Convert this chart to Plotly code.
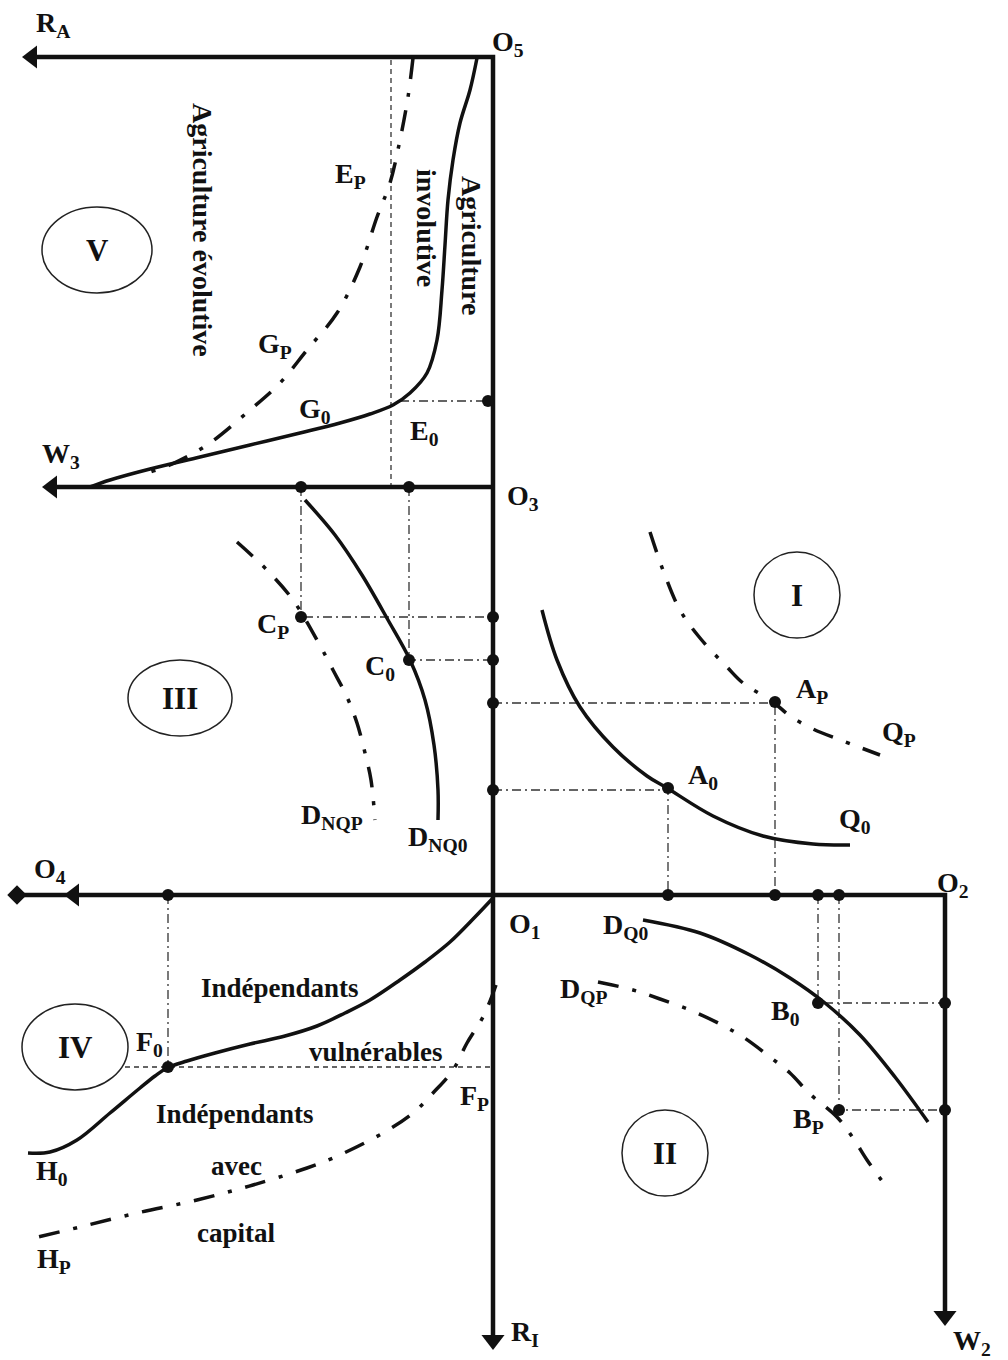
import plotly.graph_objects as go

# ---------------- data (diagram coordinates, y grows downward) ----------------
# Axes
AXIS_TOP_X = [30, 493, 493]
AXIS_TOP_Y = [57, 57, 1338]
AXIS_W3_X = [48, 493]
AXIS_W3_Y = [487, 487]
AXIS_O4_X = [14, 945, 945]
AXIS_O4_Y = [895, 895, 1316]

# Quadrant V curves
G0_X = [477, 470, 460, 453, 448, 445, 442, 437, 427, 410, 393, 370, 340, 300, 250, 200, 150, 110, 90]
G0_Y = [58, 90, 123, 160, 200, 245, 290, 340, 373, 393, 405, 414, 423, 433, 445, 457, 469, 480, 487]
GP_X = [413, 408, 400, 390, 377, 360, 337, 307, 280, 250, 207, 170, 150]
GP_Y = [58, 97, 140, 183, 217, 267, 313, 350, 383, 410, 445, 465, 472]

# Quadrant III curves
DNQ0_X = [305, 335, 362, 388, 410, 425, 434, 438, 438]
DNQ0_Y = [500, 535, 575, 620, 660, 700, 745, 790, 820]
DNQP_X = [237, 267, 293, 317, 333, 347, 357, 366, 371, 375]
DNQP_Y = [542, 570, 600, 640, 670, 697, 723, 757, 780, 820]

# Quadrant I curves
Q0_X = [542, 557, 580, 613, 647, 667, 713, 763, 813, 850]
Q0_Y = [610, 660, 707, 747, 776, 788, 816, 836, 844, 845]
QP_X = [650, 663, 680, 700, 727, 743, 773, 790, 813, 843, 880]
QP_Y = [532, 570, 610, 638, 667, 683, 702, 716, 729, 741, 755]

# Quadrant II curves
DQ0_X = [643, 700, 750, 790, 825, 860, 895, 928]
DQ0_Y = [920, 933, 955, 978, 1003, 1035, 1077, 1122]
DQP_X = [598, 633, 660, 690, 720, 743, 770, 790, 810, 837, 853, 867, 885]
DQP_Y = [982, 990, 999, 1010, 1024, 1037, 1057, 1073, 1094, 1117, 1138, 1160, 1185]

# Quadrant IV curves
H0_X = [493, 475, 450, 425, 400, 370, 345, 317, 285, 250, 215, 187, 167, 155, 140, 110, 77, 50, 28]
H0_Y = [898, 917, 942, 962, 980, 1000, 1013, 1026, 1036, 1044, 1053, 1061, 1068, 1076, 1088, 1113, 1140, 1152, 1153]
HP_X = [496, 484, 467, 453, 433, 413, 383, 333, 307, 253, 197, 137, 80, 38]
HP_Y = [985, 1015, 1043, 1070, 1093, 1113, 1133, 1158, 1168, 1185, 1200, 1213, 1227, 1237]

# Thin dash-dot projection lines
PROJ_SEGMENTS = [
    ([400, 489], [401, 401]),
    ([301, 301, 493], [487, 617, 617]),
    ([409, 409, 493], [487, 660, 660]),
    ([493, 775, 775], [703, 703, 895]),
    ([493, 668, 668], [790, 790, 895]),
    ([168, 168], [895, 1067]),
    ([818, 818, 945], [895, 1003, 1003]),
    ([839, 839, 945], [895, 1110, 1110]),
]
# Thin dashed lines
DASH_SEGMENTS = [
    ([391, 391], [60, 487]),
    ([125, 493], [1067, 1067]),
]

# Points
DOT_X = [488, 301, 409, 301, 409, 493, 493, 493, 493, 775, 668, 668, 775, 818, 839, 168, 168, 818, 839, 945, 945]
DOT_Y = [401, 487, 487, 617, 660, 617, 660, 703, 790, 702, 788, 895, 895, 895, 895, 895, 1067, 1003, 1110, 1003, 1110]

# Arrow heads
ARROW_X = [32, 52, 74, 493, 945]
ARROW_Y = [57, 487, 895, 1340, 1316]
ARROW_SYMBOL = ["triangle-left", "triangle-left", "triangle-left", "triangle-down", "triangle-down"]

# Region markers (centre x, centre y, rx, ry, label)
REGIONS = [
    (97, 250, 55, 43, "V"),
    (180, 698, 52, 38, "III"),
    (797, 595, 43, 43, "I"),
    (75, 1047, 53, 43, "IV"),
    (665, 1153, 43, 43, "II"),
]

# Labels (x, y, text)
LABELS = [
    (53, 24, "R<sub>A</sub>"),
    (508, 43, "O<sub>5</sub>"),
    (350, 175, "E<sub>P</sub>"),
    (275, 345, "G<sub>P</sub>"),
    (315, 410, "G<sub>0</sub>"),
    (424, 432, "E<sub>0</sub>"),
    (61, 455, "W<sub>3</sub>"),
    (523, 497, "O<sub>3</sub>"),
    (273, 625, "C<sub>P</sub>"),
    (380, 667, "C<sub>0</sub>"),
    (332, 816, "D<sub>NQP</sub>"),
    (438, 838, "D<sub>NQ0</sub>"),
    (812, 690, "A<sub>P</sub>"),
    (899, 733, "Q<sub>P</sub>"),
    (703, 776, "A<sub>0</sub>"),
    (855, 820, "Q<sub>0</sub>"),
    (50, 870, "O<sub>4</sub>"),
    (525, 925, "O<sub>1</sub>"),
    (953, 884, "O<sub>2</sub>"),
    (625, 926, "D<sub>Q0</sub>"),
    (583, 990, "D<sub>QP</sub>"),
    (785, 1012, "B<sub>0</sub>"),
    (808, 1120, "B<sub>P</sub>"),
    (972, 1342, "W<sub>2</sub>"),
    (525, 1333, "R<sub>I</sub>"),
    (149, 1043, "F<sub>0</sub>"),
    (474, 1097, "F<sub>P</sub>"),
    (52, 1172, "H<sub>0</sub>"),
    (54, 1260, "H<sub>P</sub>"),
]
TEXTS = [
    (280, 988, "Indépendants"),
    (376, 1052, "vulnérables"),
    (235, 1114, "Indépendants"),
    (236, 1166, "avec"),
    (236, 1233, "capital"),
]
ROT_TEXTS = [
    (203, 230, "Agriculture évolutive"),
    (427, 228, "involutive"),
    (472, 245, "Agriculture"),
]

FONT = "Liberation Serif"
INK = "#111111"

fig = go.Figure()


def line(x, y, width, dash="solid", color=INK, spline=False):
    fig.add_trace(go.Scatter(
        x=x, y=y, mode="lines",
        line=dict(color=color, width=width, dash=dash,
                  shape="spline" if spline else "linear"),
        hoverinfo="skip", showlegend=False))


for sx, sy in PROJ_SEGMENTS:
    line(sx, sy, 1.3, dash="9px,4px,2px,4px", color="#333333")
for sx, sy in DASH_SEGMENTS:
    line(sx, sy, 1.3, dash="5px,4px", color="#333333")

line(AXIS_TOP_X, AXIS_TOP_Y, 4.5)
line(AXIS_W3_X, AXIS_W3_Y, 4.5)
line(AXIS_O4_X, AXIS_O4_Y, 4.5)

for cx, cy in [(G0_X, G0_Y), (DNQ0_X, DNQ0_Y), (Q0_X, Q0_Y), (DQ0_X, DQ0_Y), (H0_X, H0_Y)]:
    line(cx, cy, 3.5, spline=True)
for cx, cy in [(GP_X, GP_Y), (DNQP_X, DNQP_Y), (QP_X, QP_Y), (DQP_X, DQP_Y), (HP_X, HP_Y)]:
    line(cx, cy, 3.5, dash="21px,14px,4px,14px", spline=True)

fig.add_trace(go.Scatter(x=DOT_X, y=DOT_Y, mode="markers",
                         marker=dict(color=INK, size=12),
                         hoverinfo="skip", showlegend=False))
fig.add_trace(go.Scatter(x=[AXIS_O4_X[0] + 3], y=[AXIS_O4_Y[0]], mode="markers",
                         marker=dict(color=INK, size=15, symbol="diamond"),
                         hoverinfo="skip", showlegend=False))
fig.add_trace(go.Scatter(x=ARROW_X, y=ARROW_Y, mode="markers",
                         marker=dict(color=INK, size=20, symbol=ARROW_SYMBOL),
                         hoverinfo="skip", showlegend=False))

annotations = []
for lx, ly, t in LABELS:
    annotations.append(dict(x=lx, y=ly, xref="x", yref="y", text="<b>" + t + "</b>",
                            showarrow=False, font=dict(family=FONT, size=28, color=INK),
                            xanchor="center", yanchor="middle"))
for lx, ly, t in TEXTS:
    annotations.append(dict(x=lx, y=ly, xref="x", yref="y", text="<b>" + t + "</b>",
                            showarrow=False, font=dict(family=FONT, size=27, color=INK),
                            xanchor="center", yanchor="middle"))
for lx, ly, t in ROT_TEXTS:
    annotations.append(dict(x=lx, y=ly, xref="x", yref="y", text="<b>" + t + "</b>",
                            showarrow=False, textangle=90,
                            font=dict(family=FONT, size=28, color=INK),
                            xanchor="center", yanchor="middle"))

shapes = []
for cx, cy, rx, ry, t in REGIONS:
    shapes.append(dict(type="circle", xref="x", yref="y",
                       x0=cx - rx, x1=cx + rx, y0=cy - ry, y1=cy + ry,
                       line=dict(color="#222222", width=1.5)))
    annotations.append(dict(x=cx, y=cy, xref="x", yref="y", text="<b>" + t + "</b>",
                            showarrow=False, font=dict(family=FONT, size=31, color=INK),
                            xanchor="center", yanchor="middle"))

fig.update_layout(
    width=1008, height=1360,
    margin=dict(l=0, r=0, t=0, b=0),
    paper_bgcolor="white", plot_bgcolor="white",
    xaxis=dict(range=[0, 1008], visible=False, fixedrange=True),
    yaxis=dict(range=[1360, 0], visible=False, fixedrange=True),
    shapes=shapes, annotations=annotations,
    showlegend=False,
)

fig.write_html("out.html", config={"displayModeBar": False},
               post_script="document.body.style.margin='0';document.body.style.overflow='hidden';")
